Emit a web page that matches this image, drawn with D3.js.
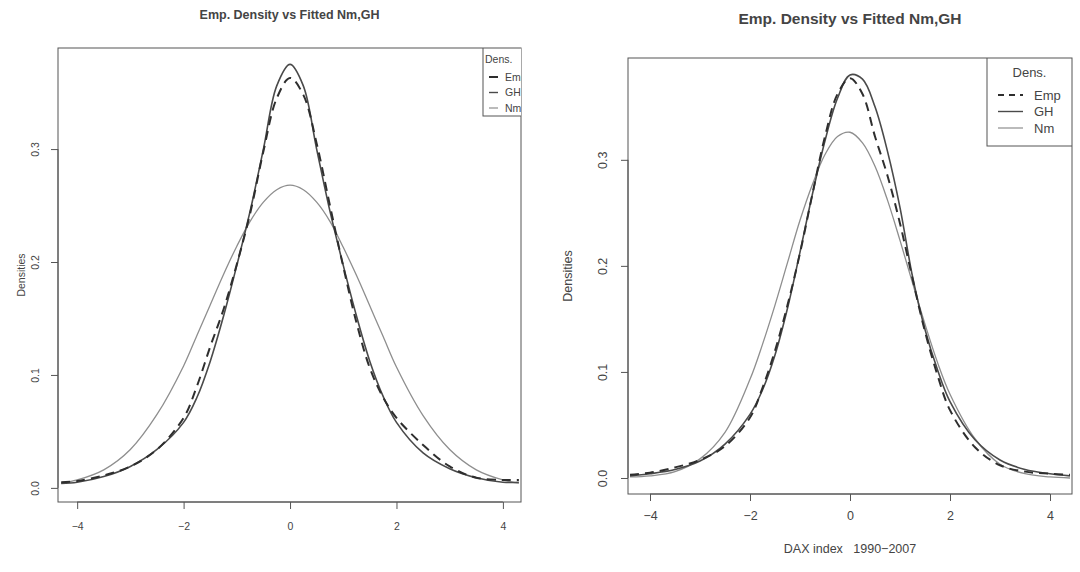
<!DOCTYPE html>
<html>
<head>
<meta charset="utf-8">
<script src="https://cdn.jsdelivr.net/npm/d3@7"></script>
<style>
  body { margin: 0; background: #fff; }
  text { font-family: "Liberation Sans", Arial, sans-serif; fill: #444; white-space: pre; }
</style>
</head>
<body>
<svg id="chart" width="1080" height="572"></svg>
<script>
// left panel
var xLeft   = [-4.3,-4,-3.5,-3,-2.5,-2,-1.75,-1.5,-1.25,-1,-0.75,-0.5,-0.25,0,0.25,0.5,0.75,1,1.25,1.5,1.75,2,2.5,3,3.5,4,4.3];
var empLeft = [0.005,0.006,0.011,0.019,0.034,0.062,0.090,0.125,0.158,0.198,0.243,0.298,0.345,0.363,0.348,0.305,0.250,0.196,0.146,0.106,0.080,0.062,0.038,0.019,0.009,0.007,0.007];
var ghLeft  = [0.004,0.005,0.010,0.019,0.034,0.058,0.080,0.112,0.152,0.197,0.245,0.300,0.356,0.375,0.356,0.300,0.245,0.197,0.152,0.112,0.081,0.058,0.031,0.017,0.009,0.005,0.005];
var nmLeft  = [0.004,0.007,0.016,0.034,0.065,0.108,0.135,0.162,0.189,0.214,0.236,0.253,0.264,0.268,0.264,0.253,0.236,0.213,0.188,0.161,0.134,0.107,0.064,0.034,0.016,0.007,0.004];

// right panel
var xRight   = [-4.4,-4,-3.5,-3,-2.5,-2,-1.75,-1.5,-1.25,-1,-0.75,-0.5,-0.25,0,0.25,0.5,0.75,1,1.25,1.5,1.75,2,2.5,3,3.5,4,4.4];
var empRight = [0.003,0.005,0.010,0.017,0.030,0.057,0.085,0.120,0.163,0.212,0.268,0.322,0.362,0.377,0.362,0.322,0.285,0.240,0.188,0.138,0.097,0.064,0.029,0.012,0.006,0.004,0.003];
var ghRight  = [0.002,0.004,0.008,0.016,0.032,0.060,0.083,0.116,0.160,0.213,0.268,0.318,0.358,0.380,0.376,0.350,0.308,0.255,0.190,0.140,0.102,0.072,0.036,0.017,0.008,0.004,0.002];
var nmRight  = [0.001,0.002,0.006,0.018,0.043,0.093,0.126,0.163,0.203,0.243,0.277,0.305,0.322,0.326,0.316,0.294,0.262,0.224,0.184,0.145,0.109,0.079,0.037,0.013,0.004,0.001,0.000];

var xTicks = [-4,-2,0,2,4];
var yTicks = [0,0.1,0.2,0.3];
var seriesNames = ["Emp","GH","Nm"];
var title = "Emp. Density vs Fitted Nm,GH";

var svg = d3.select("#chart");

var panels = [
  {left:58, right:521, top:48, bottom:502, x0:-4.36, x1:4.34, y0:-0.0125, y1:0.3895,
   x: xLeft, emp: empLeft, gh: ghLeft, nm: nmLeft, fs: 10.5, titleFs: 12.5, titleY: 19,
   ylab: 21, yoff: -23, xoff: 28, xlab: null,
   leg: {x:483, y:48, w:50, h:68, fs:10.5, lx1:489, lx2:498, tx:505, row:15.5, first:77, dens:59, anchor:"start", dx:2}},
  {left:628, right:1072, top:58, bottom:494, x0:-4.44, x1:4.44, y0:-0.0151, y1:0.396,
   x: xRight, emp: empRight, gh: ghRight, nm: nmRight, fs: 12.5, titleFs: 15.5, titleY: 24,
   ylab: 568, yoff: -25, xoff: 26, xlab: "DAX index   1990\u22122007",
   leg: {x:987, y:58, w:85, h:88, fs:13, lx1:998, lx2:1023, tx:1034, row:16.5, first:95, dens:72, anchor:"middle", dx:0}}
];

panels.forEach(function (p, k) {
  var x = d3.scaleLinear().domain([p.x0, p.x1]).range([p.left, p.right]);
  var y = d3.scaleLinear().domain([p.y0, p.y1]).range([p.bottom, p.top]);
  var g = svg.append("g");
  var cid = "clip" + k;
  svg.append("clipPath").attr("id", cid).append("rect")
    .attr("x", p.left).attr("y", p.top).attr("width", p.right - p.left).attr("height", p.bottom - p.top);

  var line = function (ys) {
    return d3.line().x(function (d, i) { return x(p.x[i]); })
      .y(function (d) { return y(d); }).curve(d3.curveCatmullRom)(ys);
  };

  var plot = g.append("g").attr("clip-path", "url(#" + cid + ")");
  plot.append("path").attr("d", line(p.nm)).attr("fill", "none")
    .attr("stroke", "#8e8e8e").attr("stroke-width", 1.3);
  plot.append("path").attr("d", line(p.gh)).attr("fill", "none")
    .attr("stroke", "#4a4a4a").attr("stroke-width", 1.6);
  plot.append("path").attr("d", line(p.emp)).attr("fill", "none")
    .attr("stroke", "#2e2e2e").attr("stroke-width", 2).attr("stroke-dasharray", "9,6");

  // frame
  g.append("rect").attr("x", p.left).attr("y", p.top)
    .attr("width", p.right - p.left).attr("height", p.bottom - p.top)
    .attr("fill", "none").attr("stroke", "#555").attr("stroke-width", 1);

  // axes
  var xa = d3.axisBottom(x).tickValues(xTicks).tickSize(7).tickSizeOuter(0)
    .tickFormat(function (d) { return d < 0 ? "\u2212" + Math.abs(d) : d; });
  var ax = g.append("g").attr("transform", "translate(0," + p.bottom + ")").call(xa);
  ax.select(".domain").attr("stroke", "#555").attr("d", "M" + x(-4) + ",0H" + x(4));
  ax.selectAll(".tick line").attr("stroke", "#555");
  ax.selectAll(".tick text").attr("dy", null).attr("y", p.xoff)
    .style("font-size", p.fs + "px").attr("fill", "#444");

  var ya = d3.axisLeft(y).tickValues(yTicks).tickSize(7).tickSizeOuter(0).tickFormat(d3.format(".1f"));
  var ay = g.append("g").attr("transform", "translate(" + p.left + ",0)").call(ya);
  ay.select(".domain").attr("stroke", "#555").attr("d", "M0," + y(0) + "V" + y(0.3));
  ay.selectAll(".tick line").attr("stroke", "#555");
  ay.selectAll(".tick text").attr("x", null).attr("y", 0).attr("dy", "0.35em")
    .attr("transform", "translate(" + p.yoff + ",0) rotate(-90)")
    .attr("text-anchor", "middle").style("font-size", p.fs + "px").attr("fill", "#444");

  // labels
  g.append("text").attr("x", (p.left + p.right) / 2).attr("y", p.titleY)
    .attr("text-anchor", "middle").style("font-size", p.titleFs + "px").style("font-weight", "bold")
    .text(title);
  g.append("text").attr("transform", "translate(" + p.ylab + "," + ((p.top + p.bottom) / 2) + ") rotate(-90)")
    .attr("text-anchor", "middle").attr("dy", "0.35em").style("font-size", p.fs + "px").text("Densities");
  if (p.xlab) {
    g.append("text").attr("x", x(0)).attr("y", 553).attr("text-anchor", "middle")
      .style("font-size", p.fs + "px").text(p.xlab);
  }

  // legend, clipped at the plot border
  var L = p.leg;
  var lg = g.append("g").attr("clip-path", "url(#" + cid + ")");
  lg.append("rect").attr("x", L.x).attr("y", L.y).attr("width", L.w).attr("height", L.h)
    .attr("fill", "#fff").attr("stroke", "#555");
  lg.append("text").attr("x", L.anchor === "start" ? L.x + L.dx : L.x + L.w / 2)
    .attr("y", L.dens).attr("dy", "0.35em")
    .attr("text-anchor", L.anchor).style("font-size", L.fs + "px").text("Dens.");
  var styles = [
    {c:"#2e2e2e", w:2, dash: k ? "6,5" : null},
    {c:"#4a4a4a", w:1.4, dash:null},
    {c:"#8e8e8e", w:1.2, dash:null}
  ];
  var rows = lg.selectAll(".legrow").data(seriesNames).enter().append("g").attr("class", "legrow")
    .attr("transform", function (d, i) { return "translate(0," + (L.first + i * L.row) + ")"; });
  rows.append("line").attr("x1", L.lx1).attr("x2", L.lx2)
    .attr("stroke", function (d, i) { return styles[i].c; })
    .attr("stroke-width", function (d, i) { return styles[i].w; })
    .attr("stroke-dasharray", function (d, i) { return styles[i].dash; });
  rows.append("text").attr("x", L.tx).attr("dy", "0.35em").style("font-size", L.fs + "px")
    .text(function (d) { return d; });
});
</script>
</body>
</html>
